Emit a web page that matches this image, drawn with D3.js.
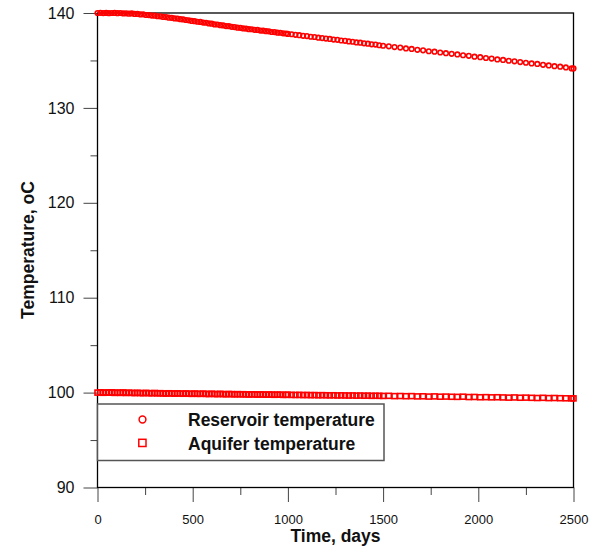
<!DOCTYPE html>
<html>
<head>
<meta charset="utf-8">
<script src="https://cdn.jsdelivr.net/npm/d3@7"></script>
<style>
  body { margin: 0; background: #fff; }
  svg { display: block; font-family: "Liberation Sans", Arial, sans-serif; }
</style>
</head>
<body>
<svg id="chart" width="597" height="546"></svg>
<script>
// time steps, days
var days = [
  0, 15, 30, 45, 60, 75, 90, 105, 120, 135, 150, 165, 180, 195, 210, 225, 240, 255, 270, 285,
  300, 315, 330, 345, 360, 375, 390, 405, 420, 435, 450, 465, 480, 495, 510, 525, 540, 555, 570, 585,
  600, 615, 630, 645, 660, 675, 690, 705, 720, 735, 750, 765, 780, 795, 810, 825, 840, 855, 870, 885,
  900, 915, 930, 945, 960, 975, 990,
  1000, 1020, 1040, 1060, 1080, 1100, 1120, 1140, 1160, 1180, 1200, 1220, 1240, 1260, 1280, 1300,
  1320, 1340, 1360, 1380, 1400, 1420, 1440, 1460, 1480,
  1500, 1530, 1560, 1590, 1620, 1650, 1680, 1710, 1740, 1770, 1800, 1830, 1860, 1890, 1920, 1950,
  1980, 2010, 2040, 2070, 2100, 2130, 2160, 2190, 2220, 2250, 2280, 2310, 2340, 2370, 2400, 2430,
  2460, 2490, 2500
];

var reservoir = [
  140.00, 140.02, 139.99, 140.01, 139.98, 140.00, 140.01, 139.98, 140.00, 139.96, 139.97, 139.93, 139.95, 139.90, 139.90, 139.85, 139.86, 139.79, 139.78, 139.73,
  139.72, 139.66, 139.65, 139.59, 139.57, 139.51, 139.49, 139.43, 139.41, 139.35, 139.32, 139.26, 139.23, 139.16, 139.14, 139.08, 139.06, 138.99, 138.97, 138.90,
  138.87, 138.80, 138.79, 138.72, 138.69, 138.62, 138.61, 138.54, 138.52, 138.45, 138.44, 138.37, 138.36, 138.30, 138.29, 138.23, 138.22, 138.15, 138.14, 138.08,
  138.07, 138.00, 137.99, 137.93, 137.92, 137.86, 137.84,
  137.80, 137.76, 137.70, 137.66, 137.60, 137.57, 137.50, 137.47, 137.40, 137.36, 137.31, 137.27, 137.20, 137.17, 137.10, 137.07,
  137.00, 136.97, 136.90, 136.87, 136.80, 136.77, 136.70, 136.67, 136.60,
  136.55, 136.49, 136.41, 136.36, 136.27, 136.21, 136.12, 136.07, 135.97, 135.92, 135.84, 135.77, 135.70, 135.63, 135.55, 135.49,
  135.40, 135.35, 135.26, 135.20, 135.11, 135.06, 134.97, 134.91, 134.83, 134.76, 134.69, 134.63, 134.54, 134.48, 134.40, 134.34,
  134.26, 134.16, 134.16
];

var aquifer = [
  100.00, 100.03, 99.98, 100.02, 99.99, 100.03, 99.97, 100.01, 99.97, 100.02, 99.96, 99.99, 99.97, 99.95, 99.98, 99.95, 99.94, 99.97, 99.94, 99.93,
  99.96, 99.92, 99.94, 99.91, 99.90, 99.93, 99.91, 99.89, 99.92, 99.90, 99.88, 99.91, 99.88, 99.87, 99.90, 99.87, 99.87, 99.89, 99.86, 99.85,
  99.88, 99.85, 99.84, 99.87, 99.84, 99.83, 99.85, 99.84, 99.82, 99.84, 99.82, 99.83, 99.81, 99.80, 99.82, 99.81, 99.79, 99.81, 99.80, 99.78,
  99.80, 99.79, 99.77, 99.79, 99.78, 99.76, 99.77,
  99.77, 99.76, 99.75, 99.76, 99.74, 99.75, 99.73, 99.74, 99.72, 99.73, 99.72, 99.71, 99.72, 99.70, 99.71, 99.70, 99.69,
  99.70, 99.68, 99.69, 99.67, 99.68, 99.66, 99.67, 99.66,
  99.65, 99.66, 99.63, 99.64, 99.62, 99.63, 99.60, 99.61, 99.58, 99.60, 99.57, 99.58, 99.56, 99.55, 99.57, 99.53,
  99.54, 99.51, 99.52, 99.50, 99.51, 99.49, 99.47, 99.49, 99.46, 99.47, 99.45, 99.43, 99.45, 99.42, 99.43, 99.41,
  99.40, 99.39, 99.39
];

var xTicks = [0, 500, 1000, 1500, 2000, 2500];
var yTicks = [90, 100, 110, 120, 130, 140];

var svg = d3.select("#chart");
var red = "#ff0000";

var x = d3.scaleLinear().domain([0, 2500]).range([97.5, 573.5]);
var y = d3.scaleLinear().domain([90, 140]).range([487.5, 13]);

// minor ticks
svg.append("g")
  .attr("transform", "translate(97.5,0)")
  .call(d3.axisLeft(y).tickValues(d3.range(95, 140, 10)).tickSize(7).tickFormat(""))
  .call(function(g) { g.select(".domain").remove(); g.selectAll("line").attr("stroke", "#444"); });

svg.append("g")
  .attr("transform", "translate(0,487.5)")
  .call(d3.axisBottom(x).tickValues(d3.range(250, 2500, 500)).tickSize(7.5).tickFormat(""))
  .call(function(g) { g.select(".domain").remove(); g.selectAll("line").attr("stroke", "#444"); });

// major ticks + labels
var yAxis = svg.append("g")
  .attr("transform", "translate(97.5,0)")
  .call(d3.axisLeft(y).tickValues(yTicks).tickSize(14).tickPadding(9).tickFormat(d3.format("d")));
yAxis.select(".domain").remove();
yAxis.selectAll("line").attr("stroke", "#444");
yAxis.selectAll("text").attr("font-size", 16).attr("fill", "#111")
  .attr("font-family", "Liberation Sans, Arial, sans-serif");

var xAxis = svg.append("g")
  .attr("transform", "translate(0,487.5)")
  .call(d3.axisBottom(x).tickValues(xTicks).tickSize(14.5).tickPadding(13).tickFormat(d3.format("d")));
xAxis.select(".domain").remove();
xAxis.selectAll("line").attr("stroke", "#444");
xAxis.selectAll("text").attr("font-size", 13).attr("fill", "#111")
  .attr("font-family", "Liberation Sans, Arial, sans-serif");

// frame
svg.append("rect")
  .attr("x", x(0)).attr("y", y(140))
  .attr("width", x(2500) - x(0)).attr("height", y(90) - y(140))
  .attr("fill", "none").attr("stroke", "#000").attr("stroke-width", 1.3);

// series
var resData = days.map(function(d, i) { return [d, reservoir[i]]; });
var aqData = days.map(function(d, i) { return [d, aquifer[i]]; });

svg.append("g").selectAll("circle")
  .data(resData)
  .enter().append("circle")
  .attr("cx", function(d) { return x(d[0]); })
  .attr("cy", function(d) { return y(d[1]); })
  .attr("r", 2.3)
  .attr("fill", "none")
  .attr("stroke", red)
  .attr("stroke-width", 1.6);

svg.append("g").selectAll("rect")
  .data(aqData)
  .enter().append("rect")
  .attr("x", function(d) { return x(d[0]) - 2.5; })
  .attr("y", function(d) { return y(d[1]) - 2.5; })
  .attr("width", 5)
  .attr("height", 5)
  .attr("fill", "none")
  .attr("stroke", red)
  .attr("stroke-width", 1.6);

// legend
var legend = svg.append("g");
legend.append("rect")
  .attr("x", 97.5).attr("y", 404)
  .attr("width", 286.5).attr("height", 56.5)
  .attr("fill", "#fff").attr("stroke", "#555").attr("stroke-width", 1.5);
legend.append("circle")
  .attr("cx", 142.5).attr("cy", 419.5).attr("r", 3.4)
  .attr("fill", "none").attr("stroke", red).attr("stroke-width", 1.5);
legend.append("rect")
  .attr("x", 138.8).attr("y", 439.3).attr("width", 7.2).attr("height", 7.2)
  .attr("fill", "none").attr("stroke", red).attr("stroke-width", 1.5);
legend.append("text")
  .attr("x", 188).attr("y", 425.5)
  .attr("font-size", 17.5).attr("font-weight", "bold").attr("fill", "#111")
  .text("Reservoir temperature");
legend.append("text")
  .attr("x", 188).attr("y", 449.5)
  .attr("font-size", 17.5).attr("font-weight", "bold").attr("fill", "#111")
  .text("Aquifer temperature");

// axis titles
svg.append("text")
  .attr("x", x(1250)).attr("y", 542)
  .attr("text-anchor", "middle")
  .attr("font-size", 17.5).attr("font-weight", "bold").attr("fill", "#111")
  .text("Time, days");

svg.append("text")
  .attr("transform", "translate(34,250) rotate(-90)")
  .attr("text-anchor", "middle")
  .attr("font-size", 17.5).attr("font-weight", "bold").attr("fill", "#111")
  .text("Temperature, oC");
</script>
</body>
</html>
